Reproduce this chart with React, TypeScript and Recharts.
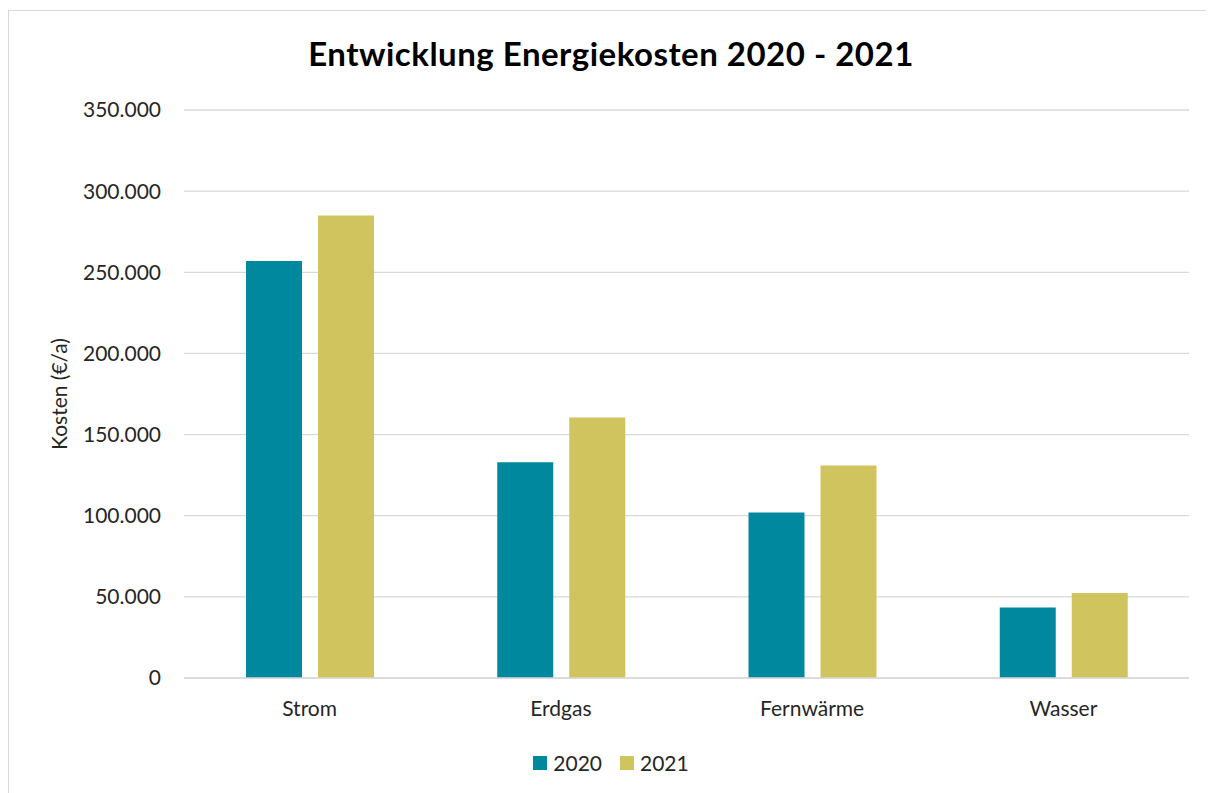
import React from 'react';
import { BarChart, Bar, XAxis, YAxis, CartesianGrid, Legend } from 'recharts';

const categories = ['Strom', 'Erdgas', 'Fernwärme', 'Wasser'];
const values2020 = [257000, 133000, 102000, 43500];
const values2021 = [285000, 160500, 131000, 52300];
const yTicks = [0, 50000, 100000, 150000, 200000, 250000, 300000, 350000];
const seriesNames = ['2020', '2021'];
const colors = ['#00889E', '#D0C45E'];

const data = categories.map((c, i) => ({
  name: c,
  '2020': values2020[i],
  '2021': values2021[i],
}));

const fmt = (v: number) => (v === 0 ? '0' : v.toLocaleString('de-DE'));

const FONT = 'Lato, "Open Sans", sans-serif';

const LegendContent = () => (
  <div style={{ display: 'flex', justifyContent: 'center', alignItems: 'center', fontFamily: FONT, fontSize: 21, color: '#262626' }}>
    {seriesNames.map((s, i) => (
      <div key={s} style={{ display: 'flex', alignItems: 'center', marginRight: i === 0 ? 18 : 0 }}>
        <span style={{ display: 'inline-block', width: 14, height: 14, background: colors[i], marginRight: 6 }} />
        <span>{s}</span>
      </div>
    ))}
  </div>
);

export default function App() {
  return (
    <div
      style={{
        position: 'relative',
        width: 1204,
        height: 790,
        marginTop: 2,
        border: '1px solid #d9d9d9',
        fontFamily: FONT,
        background: '#fff',
      }}
    >
      <div
        style={{
          position: 'absolute',
          top: 22,
          left: 0,
          width: 1204,
          textAlign: 'center',
          fontWeight: 700,
          fontSize: 33,
          letterSpacing: 0.5,
          color: '#000',
          fontFamily: FONT,
        }}
      >
        Entwicklung Energiekosten 2020 - 2021
      </div>
      <BarChart
        width={1204}
        height={790}
        data={data}
        margin={{ top: 99, right: 24, left: 0, bottom: 68 }}
        barSize={56}
        barGap={16}
      >
        <CartesianGrid vertical={false} stroke="#d9d9d9" strokeWidth={1.3} />
        <XAxis
          dataKey="name"
          axisLine={{ stroke: '#d9d9d9', strokeWidth: 1.3 }}
          tickLine={false}
          tickSize={0}
          tickMargin={23}
          tick={{ fontSize: 21, fill: '#262626' }}
        />
        <YAxis
          width={175}
          domain={[0, 350000]}
          ticks={yTicks}
          tickFormatter={fmt}
          axisLine={false}
          tickLine={false}
          tickSize={0}
          tickMargin={23}
          interval={0}
          tick={{ fontSize: 21, fill: '#262626' }}
          label={{ value: 'Kosten (€/a)', angle: -90, position: 'center', dx: -37, style: { fontSize: 21, fill: '#262626' } }}
        />
        <Legend content={<LegendContent />} wrapperStyle={{ left: 0, width: 1204, top: 739 }} />
        <Bar dataKey="2020" fill={colors[0]} isAnimationActive={false} />
        <Bar dataKey="2021" fill={colors[1]} isAnimationActive={false} />
      </BarChart>
    </div>
  );
}
